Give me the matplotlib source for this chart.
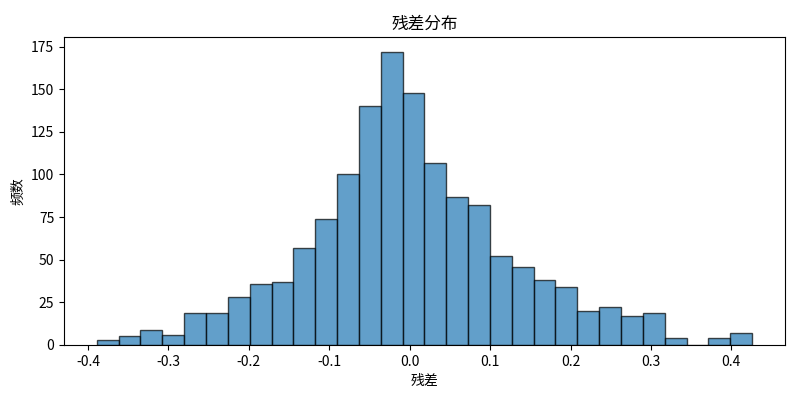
import numpy as np
import matplotlib
matplotlib.use("Agg")
import matplotlib.pyplot as plt

plt.rcParams['font.family'] = ['Noto Sans CJK SC', 'DejaVu Sans']
plt.rcParams['axes.unicode_minus'] = False

# Histogram data
bin_start = -0.389
bin_end = 0.4257
n_bins = 30
counts = [3, 5, 9, 6, 19, 19, 28, 36, 37, 57,
          74, 100, 140, 172, 148, 107, 87, 82, 52, 46,
          38, 34, 20, 22, 17, 19, 4, 0, 4, 7]

title = "残差分布"
xlabel = "残差"
ylabel = "频数"

edges = np.linspace(bin_start, bin_end, n_bins + 1)
centers = (edges[:-1] + edges[1:]) / 2

fig, ax = plt.subplots(figsize=(8, 4), dpi=100)
ax.hist(centers, bins=edges, weights=counts, color='#1f77b4', alpha=0.7,
        edgecolor='black', linewidth=1.0)
ax.set_title(title, fontsize=12)
ax.set_xlabel(xlabel)
ax.set_ylabel(ylabel)
fig.subplots_adjust(left=0.08, right=0.981, top=0.9075, bottom=0.1375)
fig.savefig("out.png", dpi=100)
